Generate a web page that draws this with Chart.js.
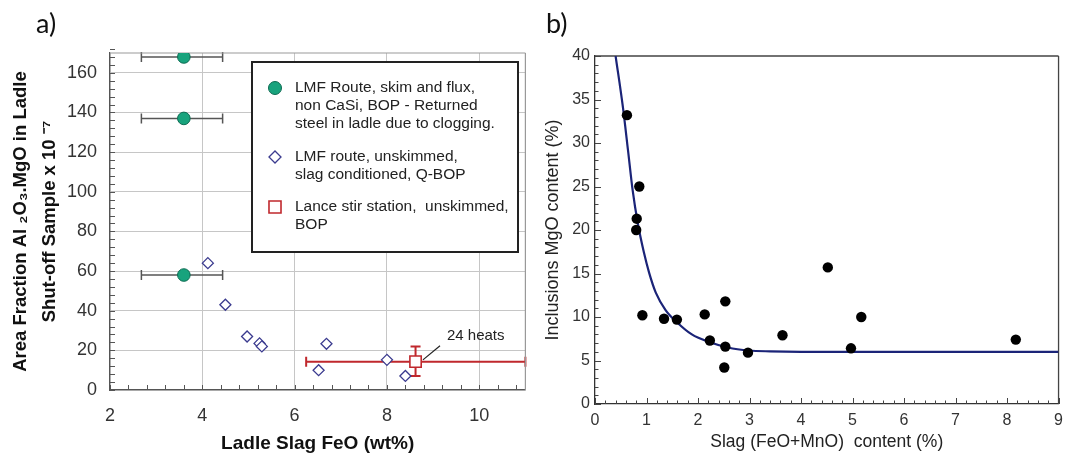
<!DOCTYPE html>
<html>
<head>
<meta charset="utf-8">
<script src="https://cdn.jsdelivr.net/npm/chart.js@4.4.0/dist/chart.umd.min.js"></script>
<style>
    body { margin: 0; background: #fff; width: 1070px; height: 462px; overflow: hidden; position: relative; }
    canvas { position: absolute; top: 0; }
    .panel-label { position: absolute; z-index: 2; font-family: Lato, 'Open Sans', sans-serif; font-size: 27px; line-height: 27px; color: #111; }
</style>
</head>
<body>
<canvas id="chart-a" width="535" height="462" style="left:0;width:535px;height:462px"></canvas>
<canvas id="chart-b" width="535" height="462" style="left:535px;width:535px;height:462px"></canvas>
<div class="panel-label" style="left:36px; top:9px;">a)</div>
<div class="panel-label" style="left:546px; top:9px;">b)</div>

<script>
// ---- panel a) ladle slag FeO vs. area fraction ----
const lmfSkimFeO = [3.6, 3.6, 3.6];
const lmfSkimArea = [168, 137, 58];
const lmfSkimFeOLow = [2.68, 2.68, 2.68];
const lmfSkimFeOHigh = [4.44, 4.44, 4.44];

const lmfUnskimFeO = [4.12, 4.5, 4.97, 5.24, 5.29, 6.52, 6.69, 8.0, 8.4];
const lmfUnskimArea = [64, 43, 27, 23.5, 22, 10, 23.3, 15.2, 7.1];

const lanceFeO = [8.62];
const lanceArea = [14.3];
const lanceFeOLow = [6.25];
const lanceFeOHigh = [11.0];
const lanceAreaLow = [7.1];
const lanceAreaHigh = [21.9];

const feoTicks = [2, 4, 6, 8, 10];
const areaTicks = [0, 20, 40, 60, 80, 100, 120, 140, 160];

const legendLmfSkim = ['LMF Route, skim and flux,', 'non CaSi, BOP - Returned', 'steel in ladle due to clogging.'];
const legendLmfUnskim = ['LMF route, unskimmed,', 'slag conditioned, Q-BOP'];
const legendLance = ['Lance stir station,  unskimmed,', 'BOP'];

// ---- panel b) slag FeO+MnO vs. inclusion MgO ----
const slagFeOMnO = [0.62, 0.86, 0.81, 0.80, 0.92, 1.34, 1.59, 2.13, 2.23, 2.53, 2.53, 2.51, 2.97, 3.64, 4.52, 5.17, 4.97, 8.17];
const inclusionMgO = [33.2, 25.0, 21.3, 20.0, 10.2, 9.8, 9.7, 10.3, 7.3, 11.8, 6.6, 4.2, 5.9, 7.9, 15.7, 10.0, 6.4, 7.4];

// fitted curve
const fitFeOMnO = [0.4, 0.54, 0.64, 0.73, 0.83, 0.95, 1.05, 1.18, 1.37, 1.59, 1.88, 2.23, 2.58, 2.99, 3.4, 4, 5, 6, 7, 8, 9];
const fitMgO = [40, 34.2, 29.2, 24.6, 20.8, 17.4, 15.1, 12.8, 10.8, 9.4, 8.0, 7.1, 6.5, 6.15, 6.05, 6.0, 6.0, 6.0, 6.0, 6.0, 6.0];

const slagTicks = [0, 1, 2, 3, 4, 5, 6, 7, 8, 9];
const mgoTicks = [0, 5, 10, 15, 20, 25, 30, 35, 40];

const FONT = "'Liberation Sans', Arial, Helvetica, sans-serif";


function toPoints(xs, ys) {
    return xs.map((x, i) => ({x: x, y: ys[i]}));
}

function line(ctx, x0, y0, x1, y1) {
    ctx.moveTo(x0, y0);
    ctx.lineTo(x1, y1);
}

// Error bars, drawn under the markers.
const errorBarPlugin = {
    id: 'errorBars',
    beforeDatasetsDraw(chart) {
        const {ctx, scales: {x, y}} = chart;
        chart.data.datasets.forEach(ds => {
            const eb = ds.errorBars;
            if (!eb) return;
            ctx.save();
            ctx.strokeStyle = eb.color;
            ctx.lineWidth = eb.width;
            ctx.beginPath();
            ds.data.forEach((pt, i) => {
                const px = x.getPixelForValue(pt.x);
                const py = y.getPixelForValue(pt.y);
                if (eb.xLow) {
                    const x0 = x.getPixelForValue(eb.xLow[i]);
                    const x1 = x.getPixelForValue(eb.xHigh[i]);
                    line(ctx, x0, py, x1, py);
                    line(ctx, x0, py - eb.cap, x0, py + eb.cap);
                    line(ctx, x1, py - eb.cap, x1, py + eb.cap);
                }
                if (eb.yLow) {
                    const y0 = y.getPixelForValue(eb.yLow[i]);
                    const y1 = y.getPixelForValue(eb.yHigh[i]);
                    line(ctx, px, y0, px, y1);
                    line(ctx, px - eb.cap, y0, px + eb.cap, y0);
                    line(ctx, px - eb.cap, y1, px + eb.cap, y1);
                }
            });
            ctx.stroke();
            ctx.restore();
        });
    }
};

// Inward major/minor tick marks plus the top/right frame lines.
const frameTicksPlugin = {
    id: 'frameTicks',
    beforeDatasetsDraw(chart, args, opts) {
        const {ctx, chartArea: a, scales: {x, y}} = chart;
        ctx.save();
        ctx.strokeStyle = opts.tickColor;
        ctx.lineWidth = 1;
        ctx.beginPath();
        const nx = Math.round((x.max - x.min) / opts.xStep);
        for (let k = 0; k <= nx; k++) {
            const v = x.min + k * opts.xStep;
            const major = Math.abs(v / opts.xMajor - Math.round(v / opts.xMajor)) < 1e-6;
            const px = Math.round(x.getPixelForValue(v)) + 0.5;
            line(ctx, px, a.bottom, px, a.bottom - (major ? opts.majorLen : opts.minorLen));
        }
        const ny = Math.round((y.max - y.min) / opts.yStep);
        for (let k = 0; k <= ny; k++) {
            const v = y.min + k * opts.yStep;
            const major = Math.abs(v / opts.yMajor - Math.round(v / opts.yMajor)) < 1e-6;
            const py = Math.round(y.getPixelForValue(v)) + 0.5;
            line(ctx, a.left, py, a.left + (major ? opts.majorLen : opts.minorLen), py);
        }
        ctx.stroke();

        ctx.strokeStyle = opts.frameColor;
        ctx.lineWidth = opts.frameWidth;
        ctx.beginPath();
        line(ctx, a.left, a.top, a.right, a.top);
        line(ctx, a.right, a.top, a.right, a.bottom);
        ctx.stroke();
        ctx.restore();
    }
};

// Boxed legend with multi-line labels inside the plot of panel a).
const boxLegendPlugin = {
    id: 'boxLegend',
    afterDatasetsDraw(chart, args, opts) {
        if (!opts.items) return;
        const {ctx} = chart;
        const [l, t, r, b] = opts.box;
        ctx.save();
        ctx.fillStyle = '#fff';
        ctx.fillRect(l, t, r - l, b - t);
        ctx.strokeStyle = '#222';
        ctx.lineWidth = 2;
        ctx.strokeRect(l, t, r - l, b - t);

        ctx.font = opts.font;
        ctx.textBaseline = 'middle';
        ctx.textAlign = 'left';
        opts.items.forEach(item => {
            const ds = chart.data.datasets[item.dataset];
            ctx.fillStyle = ds.backgroundColor;
            ctx.strokeStyle = ds.borderColor;
            ctx.lineWidth = ds.borderWidth;
            Chart.helpers.drawPoint(ctx, {
                pointStyle: ds.pointStyle, radius: item.radius, rotation: 0, borderWidth: ds.borderWidth
            }, opts.markerX, item.y);
            ctx.fillStyle = '#222';
            item.lines.forEach((txt, i) => ctx.fillText(txt, opts.textX, item.y + i * opts.lineGap));
        });
        ctx.restore();
    }
};

// "24 heats" callout.
const calloutPlugin = {
    id: 'callout',
    afterDatasetsDraw(chart, args, opts) {
        if (!opts.text) return;
        const {ctx, scales: {x, y}} = chart;
        ctx.save();
        ctx.strokeStyle = opts.color;
        ctx.lineWidth = 1.2;
        ctx.beginPath();
        line(ctx, x.getPixelForValue(opts.from[0]), y.getPixelForValue(opts.from[1]),
            x.getPixelForValue(opts.to[0]), y.getPixelForValue(opts.to[1]));
        ctx.stroke();
        ctx.fillStyle = opts.color;
        ctx.font = opts.font;
        ctx.textBaseline = 'middle';
        ctx.textAlign = 'left';
        ctx.fillText(opts.text, x.getPixelForValue(opts.at[0]), y.getPixelForValue(opts.at[1]));
        ctx.restore();
    }
};

Chart.register(errorBarPlugin, frameTicksPlugin, boxLegendPlugin, calloutPlugin);


function fixedTicks(values) {
    return axis => { axis.ticks = values.map(v => ({value: v})); };
}

new Chart(document.getElementById('chart-a'), {
    type: 'scatter',
    data: {
        datasets: [{
            label: 'LMF Route, skim and flux',
            data: toPoints(lmfSkimFeO, lmfSkimArea),
            pointStyle: 'circle',
            pointRadius: 6.3,
            backgroundColor: '#18a37d',
            borderColor: '#0e6b52',
            borderWidth: 1,
            errorBars: {xLow: lmfSkimFeOLow, xHigh: lmfSkimFeOHigh, color: '#555', width: 1.5, cap: 5}
        }, {
            label: 'LMF route, unskimmed',
            data: toPoints(lmfUnskimFeO, lmfUnskimArea),
            pointStyle: 'rectRot',
            pointRadius: 5.5,
            backgroundColor: '#fff',
            borderColor: '#3b3b8f',
            borderWidth: 1.3
        }, {
            label: 'Lance stir station',
            data: toPoints(lanceFeO, lanceArea),
            pointStyle: 'rect',
            pointRadius: 8,
            backgroundColor: '#fff',
            borderColor: '#c0282d',
            borderWidth: 1.6,
            errorBars: {xLow: lanceFeOLow, xHigh: lanceFeOHigh, yLow: lanceAreaLow, yHigh: lanceAreaHigh,
                color: '#c0282d', width: 2, cap: 5}
        }]
    },
    options: {
        responsive: false,
        animation: false,
        events: [],
        layout: {padding: {top: 53, right: 8, left: 0, bottom: 0}},
        plugins: {
            legend: {display: false},
            tooltip: {enabled: false},
            frameTicks: {xStep: 0.4, xMajor: 2, yStep: 4, yMajor: 20, minorLen: 5, majorLen: 5,
                tickColor: '#555', frameColor: '#999', frameWidth: 1.2},
            boxLegend: {
                box: [252, 62, 518, 252],
                markerX: 275,
                textX: 295,
                lineGap: 18,
                font: `15.5px ${FONT}`,
                items: [
                    {dataset: 0, y: 88, radius: 6.5, lines: legendLmfSkim},
                    {dataset: 1, y: 157, radius: 6, lines: legendLmfUnskim},
                    {dataset: 2, y: 207, radius: 8.5, lines: legendLance}
                ]
            },
            callout: {text: '24 heats', at: [9.3, 27.3], from: [8.78, 15.2], to: [9.15, 22.3],
                font: `15px ${FONT}`, color: '#222'}
        },
        scales: {
            x: {
                type: 'linear', min: 2, max: 11,
                afterBuildTicks: fixedTicks(feoTicks),
                afterFit: axis => { axis.height = 72; },
                grid: {color: '#c6c6c6', lineWidth: 1, drawTicks: false},
                border: {color: '#555', width: 1.2},
                ticks: {color: '#333', font: {family: FONT, size: 18}, padding: 15, maxRotation: 0},
                title: {display: true, text: 'Ladle Slag FeO (wt%)', color: '#111',
                    font: {family: FONT, size: 19, weight: 'bold', lineHeight: 1.1}, padding: {top: 0, bottom: 8}}
            },
            y: {
                type: 'linear', min: 0, max: 170,
                afterBuildTicks: fixedTicks(areaTicks),
                afterFit: axis => { axis.width = 110; },
                grid: {color: '#c6c6c6', lineWidth: 1, drawTicks: false},
                border: {color: '#555', width: 1.2},
                ticks: {color: '#333', font: {family: FONT, size: 18}, padding: 13},
                title: {display: true, text: ['Area Fraction Al \u2082O\u2083.MgO in Ladle', 'Shut-off Sample x 10 \u207b\u2077'],
                    color: '#111', font: {family: FONT, size: 18.5, weight: 'bold', lineHeight: 1.57}, padding: {top: 6.5, bottom: 0}}
            }
        }
    }
});

new Chart(document.getElementById('chart-b'), {
    type: 'scatter',
    data: {
        datasets: [{
            label: 'measured',
            data: toPoints(slagFeOMnO, inclusionMgO),
            pointStyle: 'circle',
            pointRadius: 5.2,
            backgroundColor: '#000',
            borderColor: '#000',
            borderWidth: 0,
            order: 0
        }, {
            label: 'fit',
            data: toPoints(fitFeOMnO, fitMgO),
            showLine: true,
            pointRadius: 0,
            borderColor: '#1b2478',
            borderWidth: 2.2,
            cubicInterpolationMode: 'monotone',
            order: 1
        }]
    },
    options: {
        responsive: false,
        animation: false,
        events: [],
        layout: {padding: {top: 56, right: 3, left: 0, bottom: 0}},
        plugins: {
            legend: {display: false},
            tooltip: {enabled: false},
            frameTicks: {xStep: 0.2, xMajor: 1, yStep: 1, yMajor: 5, minorLen: 3.5, majorLen: 6,
                tickColor: '#444', frameColor: '#444', frameWidth: 1.3}
        },
        scales: {
            x: {
                type: 'linear', min: 0, max: 9,
                afterBuildTicks: fixedTicks(slagTicks),
                afterFit: axis => { axis.height = 58; },
                grid: {display: false, drawTicks: false},
                border: {color: '#333', width: 1.3},
                ticks: {color: '#333', font: {family: FONT, size: 16}, padding: 7, maxRotation: 0},
                title: {display: true, text: 'Slag (FeO+MnO)  content (%)', color: '#222',
                    font: {family: FONT, size: 17.5, lineHeight: 1.1}, padding: {top: 0, bottom: 10.4}}
            },
            y: {
                type: 'linear', min: 0, max: 40,
                afterBuildTicks: fixedTicks(mgoTicks),
                afterFit: axis => { axis.width = 60; },
                grid: {display: false, drawTicks: false},
                border: {color: '#333', width: 1.3},
                ticks: {color: '#333', font: {family: FONT, size: 16}, padding: 5},
                title: {display: true, text: 'Inclusions MgO content (%)', color: '#222',
                    font: {family: FONT, size: 18, lineHeight: 1.1}, padding: {top: 8.1, bottom: 0}}
            }
        }
    }
});
</script>
</body>
</html>
